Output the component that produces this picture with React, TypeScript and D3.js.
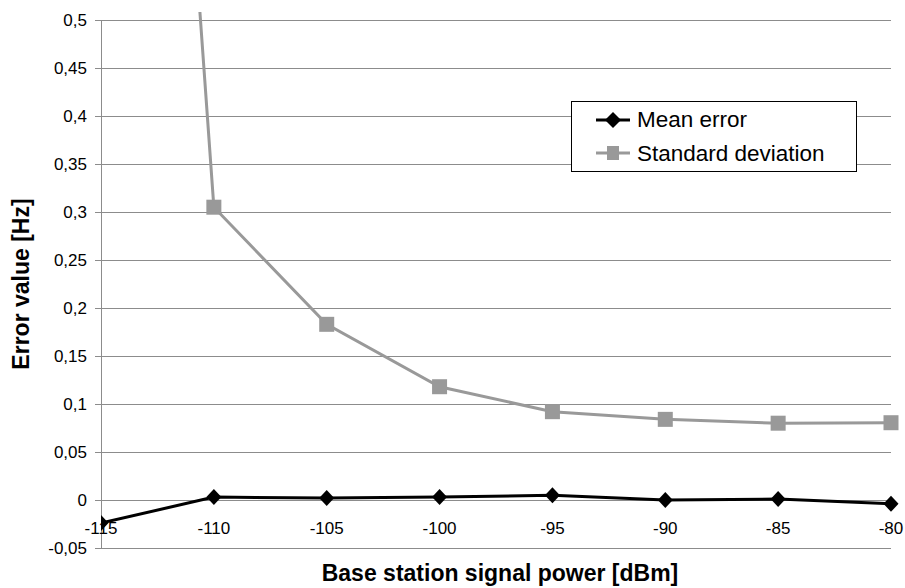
import React from "react";
import * as d3 from "d3";

const powers = [-115, -110, -105, -100, -95, -90, -85, -80];
const meanError = [-0.024, 0.003, 0.002, 0.003, 0.005, 0.0, 0.001, -0.004];
const stdDev = [1.95, 0.305, 0.183, 0.118, 0.092, 0.084, 0.08, 0.0805];
const yTicks = [-0.05, 0, 0.05, 0.1, 0.15, 0.2, 0.25, 0.3, 0.35, 0.4, 0.45, 0.5];
const xTicks = [-115, -110, -105, -100, -95, -90, -85, -80];
const seriesNames = ["Mean error", "Standard deviation"];

const W = 905;
const H = 588;
const L = 101;
const R = 891;
const T = 20;
const B = 548;
const FONT = "'Liberation Sans', Arial, sans-serif";

export default function App() {
  const x = d3.scaleLinear().domain([-115, -80]).range([L, R]);
  const y = d3.scaleLinear().domain([-0.05, 0.5]).range([B, T]);
  const line = d3
    .line<number>()
    .x((_, i) => x(powers[i]))
    .y((d) => y(d));
  const fmt = (v: number) => String(+v.toFixed(2)).replace(".", ",");
  const crisp = (v: number) => Math.round(v) + 0.5;
  const diamond = (cx: number, cy: number, rx: number, ry: number) =>
    `M${cx},${cy - ry}L${cx + rx},${cy}L${cx},${cy + ry}L${cx - rx},${cy}Z`;

  return (
    <svg
      width={W}
      height={H}
      style={{ position: "absolute", left: 0, top: 0, background: "#fff" }}
      fontFamily={FONT}
    >
      <defs>
        <clipPath id="plotclip">
          <rect x={L} y={12} width={R - L + 20} height={H - 12} />
        </clipPath>
      </defs>
      {/* gridlines */}
      {yTicks.map((t) => (
        <g key={t}>
          <line x1={L - 6} x2={R} y1={crisp(y(t))} y2={crisp(y(t))} stroke="#8c8c8c" strokeWidth={1} />
          <text x={87} y={y(t) + 6} textAnchor="end" fontSize={17} fill="#000">
            {fmt(t)}
          </text>
        </g>
      ))}
      {/* y axis */}
      <line x1={crisp(L)} x2={crisp(L)} y1={T} y2={B + 1} stroke="#8c8c8c" strokeWidth={1} />
      {/* x tick labels */}
      {xTicks.map((t) => (
        <text key={t} x={x(t)} y={534} textAnchor="middle" fontSize={17} fill="#000">
          {t}
        </text>
      ))}
      {/* series */}
      <g clipPath="url(#plotclip)">
        <path d={line(stdDev) || ""} fill="none" stroke="#999999" strokeWidth={3} />
        {stdDev.map((v, i) => (
          <rect key={i} x={x(powers[i]) - 7.5} y={y(v) - 7.5} width={15} height={15} fill="#999999" />
        ))}
        <path d={line(meanError) || ""} fill="none" stroke="#000" strokeWidth={3} />
        {meanError.map((v, i) => (
          <path key={i} d={diamond(x(powers[i]), y(v), 7.5, 8)} fill="#000" />
        ))}
      </g>
      {/* axis titles */}
      <text x={(L + R) / 2 + 4} y={581} textAnchor="middle" fontSize={23} fontWeight="bold" fill="#000">
        Base station signal power [dBm]
      </text>
      <text
        transform={`translate(29,${(T + B) / 2}) rotate(-90)`}
        textAnchor="middle"
        fontSize={23}
        fontWeight="bold"
        fill="#000"
      >
        Error value [Hz]
      </text>
      {/* legend */}
      <g>
        <rect x={571.5} y={101.5} width={285} height={70} fill="#fff" stroke="#000" strokeWidth={1} />
        <line x1={596} x2={630} y1={120} y2={120} stroke="#000" strokeWidth={3} />
        <path d={diamond(613, 120, 8, 8)} fill="#000" />
        <text x={637} y={127} fontSize={22.5} fill="#000">
          {seriesNames[0]}
        </text>
        <line x1={596} x2={630} y1={153} y2={153} stroke="#999999" strokeWidth={3} />
        <rect x={607} y={146} width={12} height={14} fill="#999999" />
        <text x={637} y={160.5} fontSize={22.5} fill="#000">
          {seriesNames[1]}
        </text>
      </g>
    </svg>
  );
}
